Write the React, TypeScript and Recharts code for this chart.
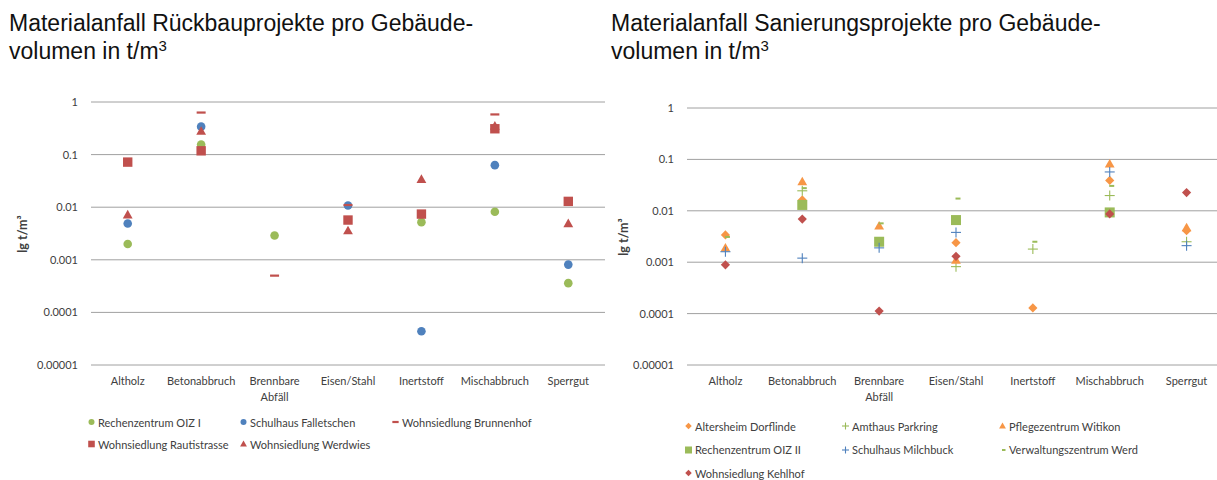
import React from 'react';
import { ScatterChart, Scatter, XAxis, YAxis, CartesianGrid } from 'recharts';

// Kategorien (x-Achse)
const categories = ['Altholz', 'Betonabbruch', 'Brennbare Abfäll', 'Eisen/Stahl', 'Inertstoff', 'Mischabbruch', 'Sperrgut'];
const yTicks = [1, 0.1, 0.01, 0.001, 0.0001, 0.00001];

// Rückbauprojekte, t/m³ je Kategorie
const oizI = [0.002, 0.156, 0.0029, null, 0.0052, 0.0082, 0.00036];
const falletschen = [0.0049, 0.34, null, 0.0108, 0.0000437, 0.063, 0.00081];
const brunnenhof = [null, 0.63, 0.0005, 0.011, null, 0.58, null];
const rautistrasse = [0.072, 0.118, null, 0.0057, 0.0074, 0.31, 0.0129];
const werdwies = [0.0072, 0.28, null, 0.0036, 0.034, 0.35, 0.0049];

// Sanierungsprojekte, t/m³ je Kategorie
const dorflinde = [0.0034, 0.0163, null, 0.0024, 0.000129, 0.039, 0.0041];
const parkring = [null, 0.0245, null, 0.00082, 0.0018, 0.0198, 0.0025];
const witikon = [0.0019, 0.037, 0.0051, 0.0011, null, 0.082, 0.0047];
const oizII = [null, 0.013, 0.0025, 0.0066, null, 0.0093, null];
const milchbuck = [0.0016, 0.0012, 0.0019, 0.0038, null, 0.057, 0.0021];
const werd = [0.0031, 0.0276, 0.0057, 0.0173, 0.0025, 0.0305, null];
const kehlhof = [0.00089, 0.0069, 0.000112, 0.0013, null, 0.0087, 0.0226];

const GREEN = '#9BBB59';
const BLUE = '#4F81BD';
const RED = '#C0504D';
const ORANGE = '#F79646';

type Kind = 'circle' | 'square' | 'bigsquare' | 'triangle' | 'dash' | 'shortdash' | 'diamond' | 'plus';

interface SeriesDef {
  name: string;
  values: (number | null)[];
  color: string;
  kind: Kind;
}

const leftSeries: SeriesDef[] = [
  { name: 'Rechenzentrum OIZ I', values: oizI, color: GREEN, kind: 'circle' },
  { name: 'Schulhaus Falletschen', values: falletschen, color: BLUE, kind: 'circle' },
  { name: 'Wohnsiedlung Brunnenhof', values: brunnenhof, color: RED, kind: 'dash' },
  { name: 'Wohnsiedlung Rautistrasse', values: rautistrasse, color: RED, kind: 'square' },
  { name: 'Wohnsiedlung Werdwies', values: werdwies, color: RED, kind: 'triangle' },
];

const rightSeries: SeriesDef[] = [
  { name: 'Altersheim Dorflinde', values: dorflinde, color: ORANGE, kind: 'diamond' },
  { name: 'Amthaus Parkring', values: parkring, color: GREEN, kind: 'plus' },
  { name: 'Pflegezentrum Witikon', values: witikon, color: ORANGE, kind: 'triangle' },
  { name: 'Rechenzentrum OIZ II', values: oizII, color: GREEN, kind: 'bigsquare' },
  { name: 'Schulhaus Milchbuck', values: milchbuck, color: BLUE, kind: 'plus' },
  { name: 'Verwaltungszentrum Werd', values: werd, color: GREEN, kind: 'shortdash' },
  { name: 'Wohnsiedlung Kehlhof', values: kehlhof, color: RED, kind: 'diamond' },
];

const toPoints = (values: (number | null)[]) =>
  values
    .map((v, i) => (v == null ? null : { x: i, y: v }))
    .filter((p) => p !== null) as { x: number; y: number }[];

const drawMarker = (kind: Kind, color: string, cx: number, cy: number, s = 1) => {
  switch (kind) {
    case 'circle':
      return <circle cx={cx} cy={cy} r={4.3 * s} fill={color} />;
    case 'square':
      return <rect x={cx - 4.7 * s} y={cy - 4.7 * s} width={9.4 * s} height={9.4 * s} fill={color} />;
    case 'bigsquare':
      return <rect x={cx - 5 * s} y={cy - 5 * s} width={10 * s} height={10 * s} fill={color} />;
    case 'triangle':
      return (
        <polygon
          points={`${cx},${cy - 4.9 * s} ${cx + 4.9 * s},${cy + 3.7 * s} ${cx - 4.9 * s},${cy + 3.7 * s}`}
          fill={color}
        />
      );
    case 'dash':
      return <rect x={cx - 4.5 * s} y={cy - 1.1} width={9 * s} height={2.2} fill={color} />;
    case 'shortdash':
      return <rect x={cx - 0.5} y={cy - 1} width={5 * s} height={2} fill={color} />;
    case 'diamond':
      return (
        <polygon
          points={`${cx},${cy - 4.6 * s} ${cx + 4.6 * s},${cy} ${cx},${cy + 4.6 * s} ${cx - 4.6 * s},${cy}`}
          fill={color}
        />
      );
    case 'plus':
      return (
        <g stroke={color} strokeWidth={1.1}>
          <line x1={cx - 5 * s} y1={cy} x2={cx + 5 * s} y2={cy} />
          <line x1={cx} y1={cy - 5 * s} x2={cx} y2={cy + 5 * s} />
        </g>
      );
    default:
      return null;
  }
};

const CategoryTick = (props: any) => {
  const { x, y, payload } = props;
  const label = categories[payload.value] || '';
  const lines = label.split(' ');
  return (
    <text x={x} y={y} textAnchor="middle" fill="#404040" fontSize={11} fontFamily="Lato, 'Open Sans', sans-serif">
      {lines.map((l, i) => (
        <tspan key={i} x={x} dy={i === 0 ? 20 : 16}>
          {l}
        </tspan>
      ))}
    </text>
  );
};

interface PanelProps {
  series: SeriesDef[];
  left: number;
  width: number;
  margin: { top: number; right: number; bottom: number; left: number };
}

const Panel: React.FC<PanelProps> = ({ series, left, width, margin }) => (
  <div style={{ position: 'absolute', left, top: 0 }}>
    <ScatterChart width={width} height={480} margin={margin}>
      <CartesianGrid vertical={false} stroke="#a0a0a0" strokeWidth={1} />
      <XAxis
        type="number"
        dataKey="x"
        domain={[-0.5, 6.5]}
        ticks={[0, 1, 2, 3, 4, 5, 6]}
        interval={0}
        axisLine={false}
        tickLine={false}
        tickSize={0}
        tickMargin={0}
        height={50}
        tick={<CategoryTick />}
      />
      <YAxis
        type="number"
        dataKey="y"
        scale="log"
        domain={[0.00001, 1]}
        allowDataOverflow
        ticks={yTicks}
        interval={0}
        axisLine={false}
        tickLine={false}
        tickSize={0}
        tickMargin={13}
        width={60}
        tickFormatter={(v: number) => String(v)}
        tick={{ fontSize: 11, fill: '#404040', fontFamily: "Lato, 'Open Sans', sans-serif" }}
      />
      {series.map((s) => (
        <Scatter
          key={s.name}
          name={s.name}
          data={toPoints(s.values)}
          isAnimationActive={false}
          shape={(p: any) => drawMarker(s.kind, s.color, p.cx, p.cy)}
        />
      ))}
    </ScatterChart>
  </div>
);

const LegendBlock: React.FC<{ series: SeriesDef[]; left: number; top: number; colWidth: number; rowHeight: number; cols: number }> = ({
  series,
  left,
  top,
  colWidth,
  rowHeight,
  cols,
}) => (
  <div style={{ position: 'absolute', left, top }}>
    {series.map((s, i) => (
      <div
        key={s.name}
        style={{
          position: 'absolute',
          left: (i % cols) * colWidth,
          top: Math.floor(i / cols) * rowHeight,
          display: 'flex',
          alignItems: 'center',
          whiteSpace: 'nowrap',
          fontFamily: "Lato, 'Open Sans', sans-serif",
          fontSize: 11,
          color: '#404040',
          height: 14,
        }}
      >
        <svg width={9} height={10} style={{ marginRight: 2 }}>
          {drawMarker(s.kind, s.color, 4.5, 5, 0.7)}
        </svg>
        <span>{s.name}</span>
      </div>
    ))}
  </div>
);

const titleStyle: React.CSSProperties = {
  position: 'absolute',
  top: 9,
  fontFamily: "'Liberation Sans', Arial, sans-serif",
  fontSize: 23,
  lineHeight: '28px',
  color: '#111',
  whiteSpace: 'nowrap',
};

const Sup = () => <span style={{ fontSize: 15, position: 'relative', top: -8 }}>3</span>;

const AxisTitle: React.FC<{ x: number; y: number }> = ({ x, y }) => (
  <svg style={{ position: 'absolute', left: 0, top: 0 }} width={1217} height={480}>
    <text
      x={x}
      y={y}
      transform={`rotate(-90 ${x} ${y})`}
      textAnchor="middle"
      dominantBaseline="central"
      fontFamily="Lato, 'Open Sans', sans-serif"
      fontWeight="bold"
      fontSize={12.5}
      fill="#404040"
    >
      lg t/m³
    </text>
  </svg>
);

export default function App() {
  return (
    <div style={{ position: 'absolute', left: 0, top: 0, width: 1217, height: 480, overflow: 'hidden', background: '#fff' }}>
      <div style={{ ...titleStyle, left: 9 }}>
        Materialanfall Rückbauprojekte pro Gebäude-
        <br />
        volumen in t/m<Sup />
      </div>
      <div style={{ ...titleStyle, left: 611 }}>
        Materialanfall Sanierungsprojekte pro Gebäude-
        <br />
        volumen in t/m<Sup />
      </div>

      <Panel series={leftSeries} left={0} width={620} margin={{ top: 102, right: 15, bottom: 65, left: 31 }} />
      <Panel series={rightSeries} left={600} width={640} margin={{ top: 108, right: 15, bottom: 65, left: 27 }} />

      <AxisTitle x={22} y={234} />
      <AxisTitle x={623} y={237} />

      <LegendBlock series={leftSeries} left={87} top={415} colWidth={152} rowHeight={22} cols={3} />
      <LegendBlock series={rightSeries} left={684} top={419} colWidth={157} rowHeight={23.5} cols={3} />
    </div>
  );
}
